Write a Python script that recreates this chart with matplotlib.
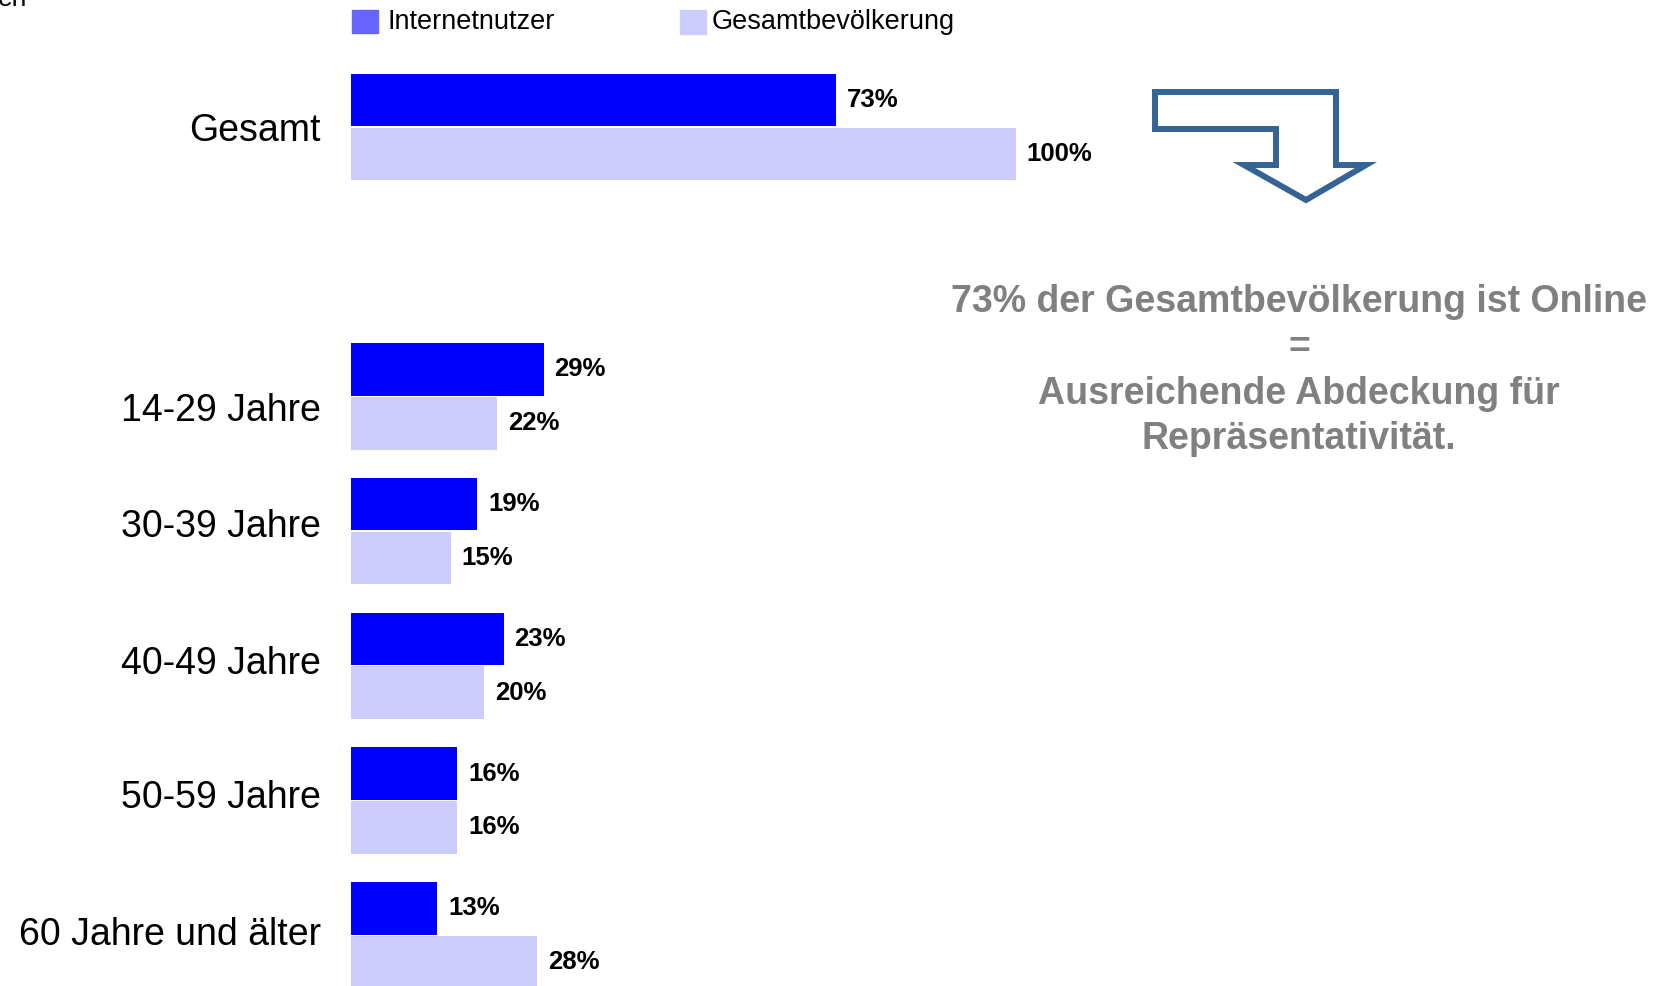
import numpy as np
import matplotlib.pyplot as plt
from matplotlib.patches import Polygon

plt.rcParams['font.family'] = ['Liberation Sans', 'DejaVu Sans']

# Data
categories = ["Gesamt", "14-29 Jahre", "30-39 Jahre", "40-49 Jahre", "50-59 Jahre", "60 Jahre und älter"]
internetnutzer = [73, 29, 19, 23, 16, 13]
gesamtbevoelkerung = [100, 22, 15, 20, 16, 28]
slots = [0, 2, 3, 4, 5, 6]  # Gesamt separated from the age groups

W, H = 1676, 986
fig = plt.figure(figsize=(W / 100, H / 100), dpi=100)

# axes: x=0 at pixel 351, 100% = 665 px; slot 0 centre at pixel 127, slot = 134.7 px
left_px = 351
ax = fig.add_axes([left_px / W, 0, (W - left_px) / W, 1])
ax.set_xlim(0, (W - left_px) / 6.65)
slot_px = 134.7
ax.set_ylim((H - 127) / slot_px, -127 / slot_px)
ax.axis("off")

y = np.array(slots, dtype=float)
h = 0.39
ax.barh(y - 0.2, internetnutzer, height=h, color="#0000FF")
ax.barh(y + 0.2, gesamtbevoelkerung, height=h, color="#CCCCFF")

for yi, a, b in zip(y, internetnutzer, gesamtbevoelkerung):
    ax.text(a + 1.6, yi - 0.2, f"{a}%", ha="left", va="center",
            fontsize=18.5, fontweight="bold", color="black")
    ax.text(b + 1.6, yi + 0.2, f"{b}%", ha="left", va="center",
            fontsize=18.5, fontweight="bold", color="black")

# category labels (slightly uneven vertical placement as in the original slide)
label_shift = [0.03, 0.11, -0.03, -0.015, -0.015, 0.0]
for yi, cat, dy in zip(y, categories, label_shift):
    ax.text(-4.5, yi + dy, cat, ha="right", va="center", fontsize=27, color="black")

# legend
fig.patches.append(plt.Rectangle((352 / W, 1 - 33 / H), 26 / W, 23 / H,
                                 transform=fig.transFigure, color="#6666FF"))
fig.text(387 / W, 1 - 22 / H, "Internetnutzer", ha="left", va="center", fontsize=19.5)
fig.patches.append(plt.Rectangle((680 / W, 1 - 34 / H), 26 / W, 24 / H,
                                 transform=fig.transFigure, color="#CCCCFF"))
fig.text(712 / W, 1 - 22 / H, "Gesamtbevölkerung", ha="left", va="center", fontsize=19.5)

# cut-off text at top-left
fig.text(-2 / W, 1 - 6 / H, "en", ha="left", va="baseline", fontsize=19)

# bent arrow
arrow_px = [(1155, 92), (1336, 92), (1336, 165), (1366, 165), (1306, 200),
            (1244, 165), (1276, 165), (1276, 129), (1155, 129)]
arrow = Polygon([(px / W, 1 - py / H) for px, py in arrow_px], closed=True,
                transform=fig.transFigure, fill=False, edgecolor="#336495",
                linewidth=4.3, joinstyle="miter")
fig.patches.append(arrow)

# message text
msg_lines = ["73% der Gesamtbevölkerung ist Online", "=",
             "Ausreichende Abdeckung für", "Repräsentativität."]
msg_y = [302, 348, 394, 439]
for line, py in zip(msg_lines, msg_y):
    fig.text(1299 / W, 1 - py / H, line, ha="center", va="center",
             fontsize=27, fontweight="bold", color="#808080")

fig.savefig("out.png", dpi=100)
